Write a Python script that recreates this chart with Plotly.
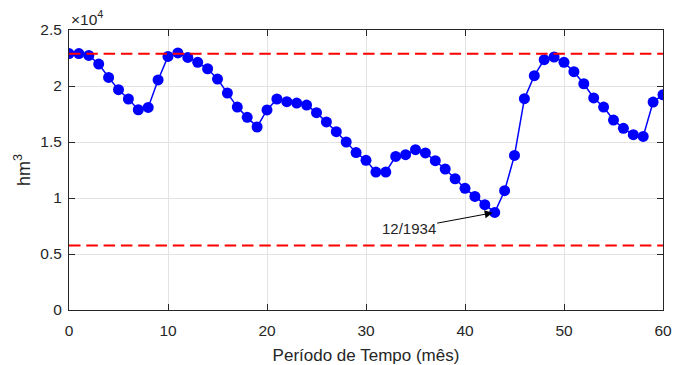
import plotly.graph_objects as go

# Monthly stored volume (hm³) over the critical period
meses = list(range(61))
volume = [
    22900, 22900, 22730, 21960, 20770, 19670, 18840, 17880, 18090, 20540,
    22640, 22950, 22550, 22110, 21540, 20620, 19370, 18120, 17200, 16340,
    17860, 18840, 18600, 18480, 18300, 17620, 16790, 15920, 15000, 14060,
    13360, 12320, 12320, 13710, 13870, 14310, 14020, 13330, 12590, 11720,
    10860, 10140, 9400, 8710, 10650, 13800, 18870, 20920, 22350, 22590,
    22110, 21280, 20200, 18930, 18120, 16960, 16220, 15650, 15500, 18570,
    19220,
]

# Upper and lower reference volumes (hm³)
volume_max = 22880
volume_min = 5770

# Labelled point: lowest storage month
ponto_mes = 43
ponto_rotulo = "12/1934"

y_ticks = [0, 5000, 10000, 15000, 20000, 25000]
y_ticktext = ["0", "0.5", "1", "1.5", "2", "2.5"]
x_ticks = [0, 10, 20, 30, 40, 50, 60]

FONT = "Liberation Sans, Arial, sans-serif"
TXT = "#262626"

fig = go.Figure()

fig.add_trace(go.Scatter(
    x=meses, y=volume, mode="lines+markers",
    line=dict(color="#0000ff", width=1.5),
    marker=dict(color="#0000ff", size=11, line=dict(width=0)),
    showlegend=False, hoverinfo="x+y",
))

for nivel in (volume_max, volume_min):
    fig.add_trace(go.Scatter(
        x=[meses[0], meses[-1]], y=[nivel, nivel], mode="lines",
        line=dict(color="#ff0000", width=2, dash="11.5px,5.8px"),
        showlegend=False, hoverinfo="skip",
    ))

fig.add_annotation(
    x=ponto_mes, y=volume[ponto_mes], xref="x", yref="y",
    text=ponto_rotulo, showarrow=True,
    ax=-86, ay=16, axref="pixel", ayref="pixel",
    arrowhead=2, arrowsize=1.6, arrowwidth=1, arrowcolor="#000000",
    standoff=2,
    font=dict(family=FONT, size=15, color=TXT),
)

fig.add_annotation(
    x=0, y=1, xref="paper", yref="paper", xanchor="left", yanchor="bottom",
    text="×10<sup>4</sup>", showarrow=False, yshift=0,
    font=dict(family=FONT, size=15.5, color=TXT),
)

axis_common = dict(
    showline=True, linecolor="#262626", linewidth=1, mirror="allticks",
    ticks="inside", ticklen=6, tickcolor="#262626", tickwidth=1,
    showgrid=True, gridcolor="#e3e3e3", gridwidth=1,
    zeroline=False, automargin=False,
    tickfont=dict(family=FONT, size=15.5, color=TXT),
)

fig.update_xaxes(
    range=[0, 60], tickvals=x_ticks, ticklabelstandoff=6,
    title=dict(text="Período de Tempo (mês)", font=dict(family=FONT, size=17, color=TXT), standoff=11),
    **axis_common,
)
fig.update_yaxes(
    range=[0, 25000], tickvals=y_ticks, ticktext=y_ticktext, ticklabelstandoff=3,
    title=dict(text="hm<sup>3</sup>", font=dict(family=FONT, size=18, color=TXT), standoff=5),
    **axis_common,
)

fig.update_layout(
    width=687, height=365,
    margin=dict(l=69, r=24, t=30, b=55),
    paper_bgcolor="white", plot_bgcolor="white",
    font=dict(family=FONT, color=TXT),
)

fig.write_html("out.html")
